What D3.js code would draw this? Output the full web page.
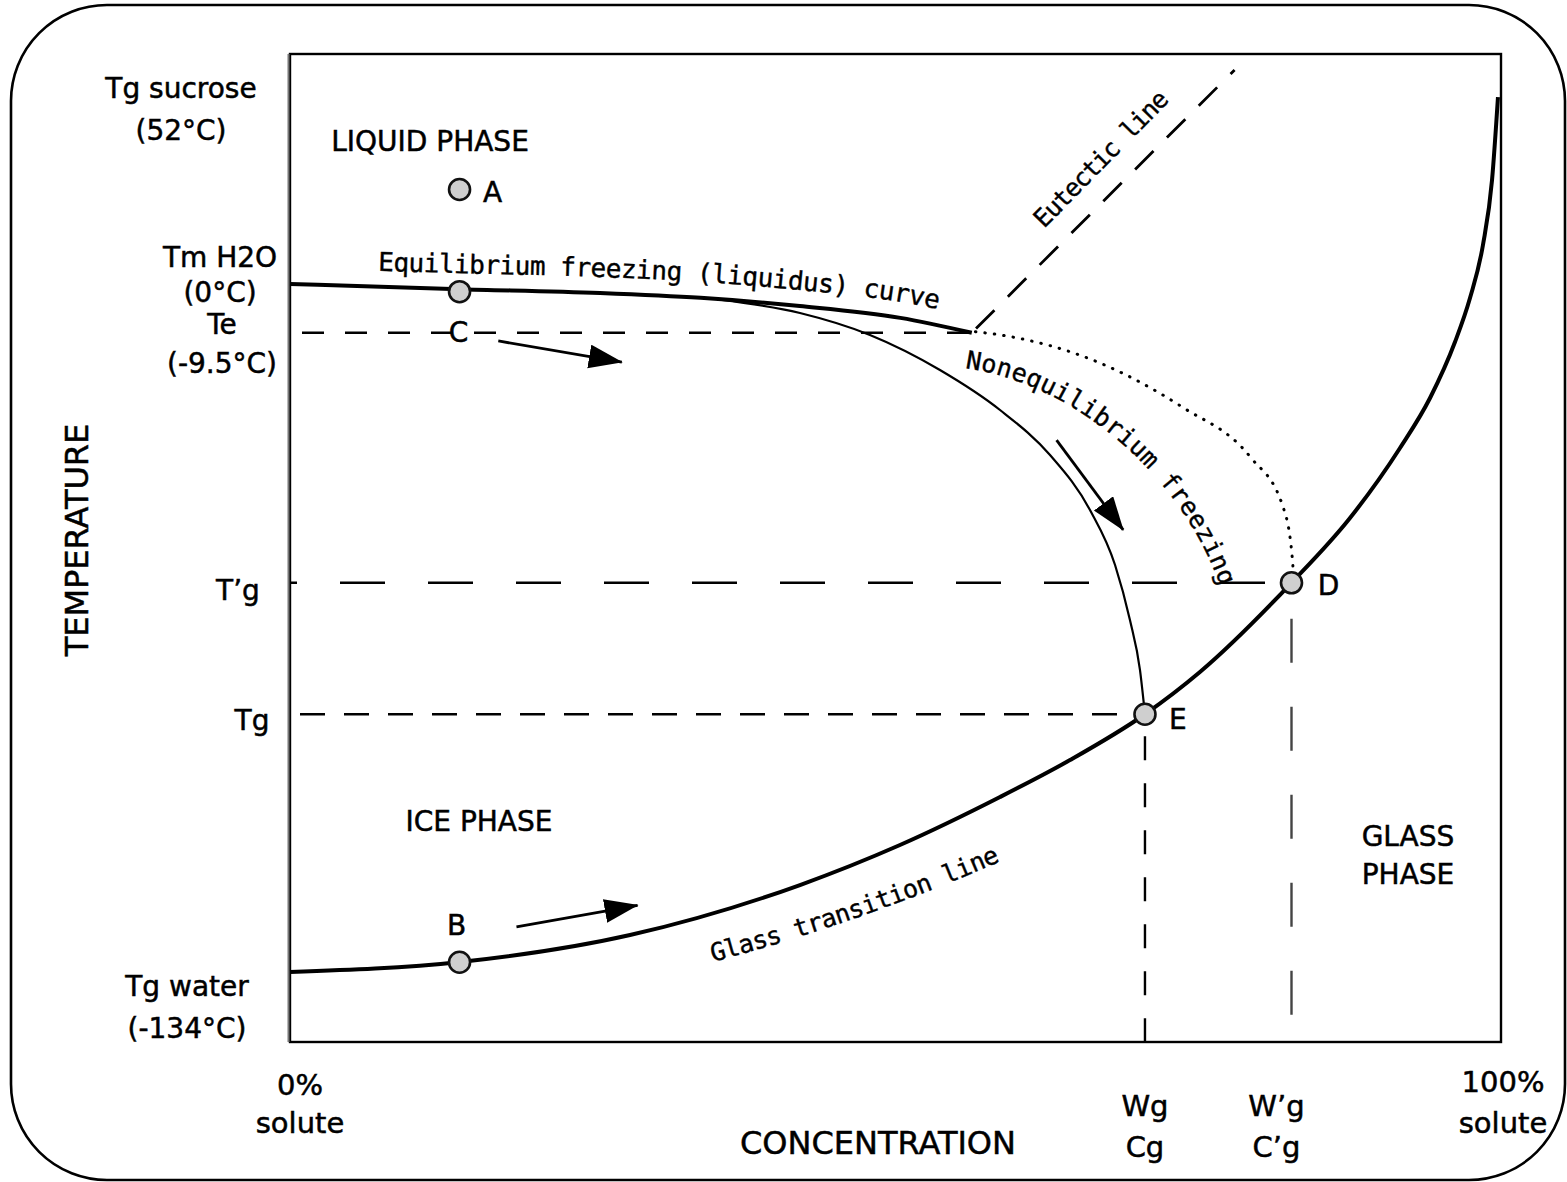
<!DOCTYPE html>
<html>
<head>
<meta charset="utf-8">
<script src="https://cdn.jsdelivr.net/npm/d3@7"></script>
<style>
  html, body { margin: 0; padding: 0; background: #fff; }
  svg { display: block; }
</style>
</head>
<body>
<svg id="chart" width="1567" height="1182"></svg>
<script>
// ---- State diagram data: concentration in % solute, temperature in °C ----
const tempTicks = [52, 0, -9.5, -58.2, -83.8, -134];
const tempTickLabels = [["Tg sucrose", "(52°C)"], ["Tm H2O", "(0°C)"], ["Te", "(-9.5°C)"], ["T’g"], ["Tg"], ["Tg water", "(-134°C)"]];
const concTicks = [0, 70.6, 82.7, 100];
const concTickLabels = [["0%", "solute"], ["Wg", "Cg"], ["W’g", "C’g"], ["100%", "solute"]];

// equilibrium freezing (liquidus) curve
const liquidus = [[0, 0], [14.0, -1.0], [25.6, -1.75], [33.9, -2.7], [42.1, -4.3], [50.4, -6.6], [56.3, -9.5]];
// eutectic line
const eutectic = [[56.3, -9.5], [78.0, 58.9]];
// glass transition line
const glassTransition = [[0, -134], [14.04, -132.06], [28.08, -126.8], [42.11, -117.06], [50.37, -109.27],
  [58.63, -99.92], [64.41, -92.72], [70.6, -83.8], [75.14, -75.57], [82.7, -58.2], [87.53, -45.58],
  [91.66, -31.94], [94.14, -22.2], [96.2, -11.3], [97.44, -2.73], [98.51, 10.73], [99.26, 28.61], [99.75, 51.44]];
// nonequilibrium freezing path ending at E
const nonequilibrium = [[35.51, -3.04], [42.11, -5.65], [47.89, -9.93], [53.67, -16.75], [58.63, -24.54],
  [62.76, -33.31], [66.06, -44.02], [68.13, -54.73], [69.36, -65.45], [70.19, -75.19], [70.6, -83.8]];
// extension of the liquidus below Te down to D (dotted)
const liquidusExtension = [[56.6, -9.3], [58.6, -9.9], [66.9, -15.4], [73.7, -24.0], [79.3, -33.7], [82.0, -43.4],
  [82.75, -53.0], [82.85, -56.0]];

const pointNames = ["A", "B", "C", "D", "E"];
const pointConc = [14.0, 14.0, 14.0, 82.7, 70.6];
const pointTemp = [26, -132.1, -1.5, -58.2, -83.8];

const arrowFrom = [[17.2, -11.1], [18.7, -125.2], [63.3, -30.4]];
const arrowTo = [[27.4, -15.2], [28.7, -121.0], [68.8, -47.9]];

const phaseLabels = [["LIQUID PHASE"], ["ICE PHASE"], ["GLASS", "PHASE"]];
const curveLabels = ["Equilibrium freezing (liquidus) curve", "Eutectic line", "Nonequilibrium freezing", "Glass transition line"];

// ---- layout ----
const plot = { left: 290, right: 1501, top: 54, bottom: 1042 };
const sans = "'DejaVu Sans', Verdana, sans-serif";
const mono = "'DejaVu Sans Mono', monospace";

const svg = d3.select("#chart");
const x = d3.scaleLinear().domain([0, 100]).range([plot.left, plot.right]);
const y = d3.scaleLinear().domain([-134, 0, 52]).range([972, 284, 95]);

const line = d3.line().x(d => x(d[0])).y(d => y(d[1])).curve(d3.curveMonotoneX);

const defs = svg.append("defs");
defs.append("marker")
  .attr("id", "head").attr("markerUnits", "userSpaceOnUse")
  .attr("markerWidth", 38).attr("markerHeight", 26)
  .attr("refX", 33).attr("refY", 12).attr("orient", "auto")
  .append("path").attr("d", "M0,0 L34,12 L0,24 Z").attr("fill", "#000");

// outer rounded panel
svg.append("rect")
  .attr("x", 11).attr("y", 5).attr("width", 1554).attr("height", 1175)
  .attr("rx", 96).attr("ry", 96)
  .attr("fill", "#fff").attr("stroke", "#000").attr("stroke-width", 2.6);

// plot frame
svg.append("rect")
  .attr("x", plot.left).attr("y", plot.top)
  .attr("width", plot.right - plot.left).attr("height", plot.bottom - plot.top)
  .attr("fill", "none").attr("stroke", "#000").attr("stroke-width", 2.4);
svg.append("line")
  .attr("x1", plot.left - 1.5).attr("x2", plot.left - 1.5)
  .attr("y1", plot.top).attr("y2", plot.bottom)
  .attr("stroke", "#777").attr("stroke-width", 2);

// ---- guide lines ----
const guides = svg.append("g").attr("fill", "none").attr("stroke", "#000").attr("stroke-width", 2.4);
// Te
guides.append("line")
  .attr("x1", x(0)).attr("x2", x(liquidus[liquidus.length - 1][0]))
  .attr("y1", y(tempTicks[2])).attr("y2", y(tempTicks[2]))
  .attr("stroke-dasharray", "22,21").attr("stroke-dashoffset", 31);
// T'g to D
guides.append("line")
  .attr("x1", x(0)).attr("x2", x(pointConc[3]))
  .attr("y1", y(tempTicks[3])).attr("y2", y(tempTicks[3]))
  .attr("stroke-dasharray", "45,43").attr("stroke-dashoffset", 38);
// Tg to E
guides.append("line")
  .attr("x1", x(0)).attr("x2", x(pointConc[4]))
  .attr("y1", y(tempTicks[4])).attr("y2", y(tempTicks[4]))
  .attr("stroke-dasharray", "25,19").attr("stroke-dashoffset", 34);
// Wg
guides.append("line")
  .attr("x1", x(concTicks[1])).attr("x2", x(concTicks[1]))
  .attr("y1", y(pointTemp[4])).attr("y2", plot.bottom)
  .attr("stroke-dasharray", "24,23").attr("stroke-dashoffset", -22);
// W'g
guides.append("line")
  .attr("x1", x(concTicks[2])).attr("x2", x(concTicks[2]))
  .attr("y1", y(pointTemp[3])).attr("y2", plot.bottom)
  .attr("stroke", "#444")
  .attr("stroke-dasharray", "44,44").attr("stroke-dashoffset", -36);

// ---- curves ----
svg.append("path").datum(eutectic).attr("d", line)
  .attr("fill", "none").attr("stroke", "#000").attr("stroke-width", 2.8)
  .attr("stroke-dasharray", "26,19").attr("stroke-dashoffset", -6);
svg.append("path").datum(liquidusExtension).attr("d", line)
  .attr("fill", "none").attr("stroke", "#000").attr("stroke-width", 3)
  .attr("stroke-linecap", "round").attr("stroke-dasharray", "0.5,9");
svg.append("path").datum(nonequilibrium).attr("d", line)
  .attr("fill", "none").attr("stroke", "#000").attr("stroke-width", 2.2);
svg.append("path").datum(liquidus).attr("d", line)
  .attr("fill", "none").attr("stroke", "#000").attr("stroke-width", 4);
svg.append("path").datum(glassTransition).attr("d", line)
  .attr("fill", "none").attr("stroke", "#000").attr("stroke-width", 4);

// ---- arrows ----
svg.append("g").selectAll("line").data(arrowFrom).join("line")
  .attr("x1", d => x(d[0])).attr("y1", d => y(d[1]))
  .attr("x2", (d, i) => x(arrowTo[i][0])).attr("y2", (d, i) => y(arrowTo[i][1]))
  .attr("stroke", "#000").attr("stroke-width", 2.8)
  .attr("marker-end", "url(#head)");

// ---- state points ----
const pts = svg.append("g");
pts.selectAll("circle").data(pointNames).join("circle")
  .attr("cx", (d, i) => x(pointConc[i])).attr("cy", (d, i) => y(pointTemp[i]))
  .attr("r", 10.5)
  .attr("fill", "#cfcfcf").attr("stroke", "#111").attr("stroke-width", 2.6);
// letter offsets from each point (dx, dy to baseline)
const pointLabelOffset = { A: [33, 12], B: [-3, -27], C: [-1, 50], D: [37, 12], E: [33, 15] };
pts.selectAll("text").data(pointNames).join("text")
  .attr("x", (d, i) => x(pointConc[i]) + pointLabelOffset[d][0])
  .attr("y", (d, i) => y(pointTemp[i]) + pointLabelOffset[d][1])
  .attr("text-anchor", "middle")
  .attr("font-family", sans).attr("font-size", 28).attr("fill", "#000")
  .attr("stroke", "#000").attr("stroke-width", 0.5)
  .text(d => d);

// ---- temperature tick labels ----
// [centre x, first baseline offset from tick, line gap]
const tempLabelLayout = [[181, 3, 42], [220, -17, 35], [222, 1, 39], [238, 17, 0], [252, 16, 0], [187, 24, 42]];
const tl = svg.append("g").attr("font-family", sans).attr("font-size", 28).attr("text-anchor", "middle")
  .attr("fill", "#000").attr("stroke", "#000").attr("stroke-width", 0.5);
tempTicks.forEach((t, i) => {
  const [cx, dy, gap] = tempLabelLayout[i];
  tempTickLabels[i].forEach((s, j) => {
    tl.append("text").attr("x", cx).attr("y", y(t) + dy + j * gap).text(s);
  });
});

// ---- concentration tick labels ----
// [dx from tick, first baseline, line gap]
const concLabelLayout = [[10, 1095, 38], [0, 1116, 41], [-15, 1116, 41], [2, 1092, 41]];
const cl = svg.append("g").attr("font-family", sans).attr("font-size", 29).attr("text-anchor", "middle")
  .attr("fill", "#000").attr("stroke", "#000").attr("stroke-width", 0.5);
concTicks.forEach((c, i) => {
  const [dx, by, gap] = concLabelLayout[i];
  concTickLabels[i].forEach((s, j) => {
    cl.append("text").attr("x", x(c) + dx).attr("y", by + j * gap).text(s);
  });
});

// ---- axis titles ----
svg.append("text")
  .attr("transform", "translate(88,540) rotate(-90)")
  .attr("text-anchor", "middle")
  .attr("font-family", sans).attr("font-size", 32).attr("fill", "#000")
  .attr("stroke", "#000").attr("stroke-width", 0.5)
  .text("TEMPERATURE");
svg.append("text")
  .attr("x", 878).attr("y", 1154)
  .attr("text-anchor", "middle")
  .attr("font-family", sans).attr("font-size", 32).attr("fill", "#000")
  .attr("stroke", "#000").attr("stroke-width", 0.5)
  .text("CONCENTRATION");

// ---- phase labels ----
const phaseLayout = [[430, 151, 0], [479, 831, 0], [1408, 846, 38]];
const pl = svg.append("g").attr("font-family", sans).attr("font-size", 28).attr("text-anchor", "middle")
  .attr("fill", "#000").attr("stroke", "#000").attr("stroke-width", 0.5);
phaseLabels.forEach((lines, i) => {
  const [cx, by, gap] = phaseLayout[i];
  lines.forEach((s, j) => pl.append("text").attr("x", cx).attr("y", by + j * gap).text(s));
});

// ---- curve labels ----
// liquidus label follows the liquidus curve, lifted above it
defs.append("path").attr("id", "liquidusLabelPath").attr("d", line(liquidus));
svg.append("g").attr("transform", "translate(0,-16)")
  .append("text")
  .attr("font-family", mono).attr("font-size", 26).attr("fill", "#000")
  .attr("stroke", "#000").attr("stroke-width", 0.4)
  .append("textPath").attr("href", "#liquidusLabelPath").attr("startOffset", 88)
  .attr("textLength", 562).attr("lengthAdjust", "spacing")
  .text(curveLabels[0]);

svg.append("text")
  .attr("transform", "translate(1044,229) rotate(-45.5)")
  .attr("font-family", mono).attr("font-size", 25).attr("fill", "#000")
  .attr("stroke", "#000").attr("stroke-width", 0.4)
  .attr("textLength", 180).attr("lengthAdjust", "spacing")
  .text(curveLabels[1]);

defs.append("path").attr("id", "noneqLabelPath").attr("d", "M965,368 C1090,386 1202,498 1228,614");
svg.append("text")
  .attr("font-family", mono).attr("font-size", 25).attr("fill", "#000")
  .attr("stroke", "#000").attr("stroke-width", 0.4)
  .append("textPath").attr("href", "#noneqLabelPath")
  .attr("textLength", 352).attr("lengthAdjust", "spacing")
  .text(curveLabels[2]);

defs.append("path").attr("id", "glassLabelPath").attr("d", "M713,962 Q866,921 1010,857");
svg.append("text")
  .attr("font-family", mono).attr("font-size", 25).attr("fill", "#000")
  .attr("stroke", "#000").attr("stroke-width", 0.4)
  .append("textPath").attr("href", "#glassLabelPath")
  .attr("textLength", 305).attr("lengthAdjust", "spacing")
  .text(curveLabels[3]);
</script>
</body>
</html>
